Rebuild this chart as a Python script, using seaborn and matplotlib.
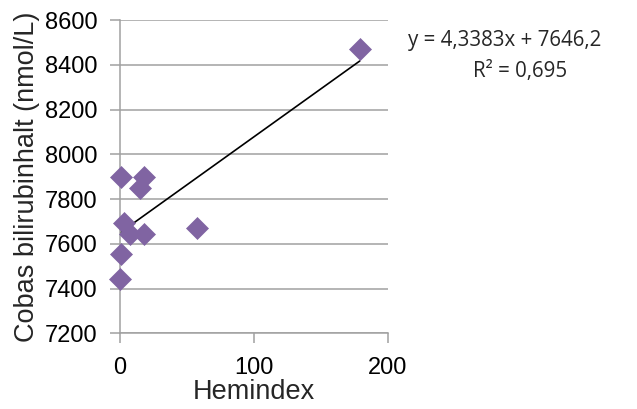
import matplotlib
matplotlib.use("Agg")
import matplotlib.pyplot as plt
import seaborn as sns
import pandas as pd
import numpy as np

hemindex = [1, 18, 15, 3, 8, 18, 58, 1, 0, 179]
bilirubin = [7900, 7900, 7850, 7695, 7645, 7645, 7670, 7555, 7445, 8470]
equation_text = "y = 4,3383x + 7646,2"
r2_text = "R² = 0,695"
x_ticks = [0, 100, 200]
y_ticks = [7200, 7400, 7600, 7800, 8000, 8200, 8400, 8600]

df = pd.DataFrame({"Hemindex": hemindex, "Bilirubin": bilirubin})

sns.set_theme(style="white")
plt.rcParams["font.family"] = ["Liberation Sans", "DejaVu Sans"]

fig = plt.figure(figsize=(6.37, 4.09), dpi=100)
ax = fig.add_axes([0.1876, 0.1846, 0.4215, 0.7665])

grid_c = "#A0A0A0"
for yv in y_ticks:
    ax.axhline(yv, color=grid_c, lw=1.1, zorder=0)

sns.regplot(data=df, x="Hemindex", y="Bilirubin", scatter=False, ci=None,
            truncate=True, ax=ax, line_kws=dict(color="black", lw=1.2, zorder=2))
sns.scatterplot(data=df, x="Hemindex", y="Bilirubin", marker="D", s=125,
                color="#8064A2", edgecolor="#8064A2", linewidth=0.5, ax=ax,
                zorder=3, clip_on=False)

ax.set_xlim(0, 200)
ax.set_ylim(7200, 8600)
ax.set_xticks(x_ticks)
ax.set_yticks(y_ticks)
for s in ["top", "right"]:
    ax.spines[s].set_visible(False)
for s in ["left", "bottom"]:
    ax.spines[s].set_color(grid_c)
    ax.spines[s].set_linewidth(1.1)
ax.tick_params(axis="both", direction="out", length=7, width=1.1, color=grid_c,
               labelsize=17, labelcolor="black", bottom=True, left=True)
ax.tick_params(axis="x", pad=10)
ax.tick_params(axis="y", pad=9)
ax.set_xlabel("Hemindex", fontsize=19.5, labelpad=0)
ax.set_ylabel("Cobas bilirubinhalt (nmol/L)", fontsize=19.5, labelpad=3)

fig.text(0.793, 0.902, equation_text, ha="center", va="center", fontsize=14.8,
         family=["Open Sans", "DejaVu Sans"])
fig.text(0.816, 0.826, r2_text, ha="center", va="center", fontsize=14.8,
         family=["Open Sans", "DejaVu Sans"])

fig.savefig("out.png", dpi=100)
